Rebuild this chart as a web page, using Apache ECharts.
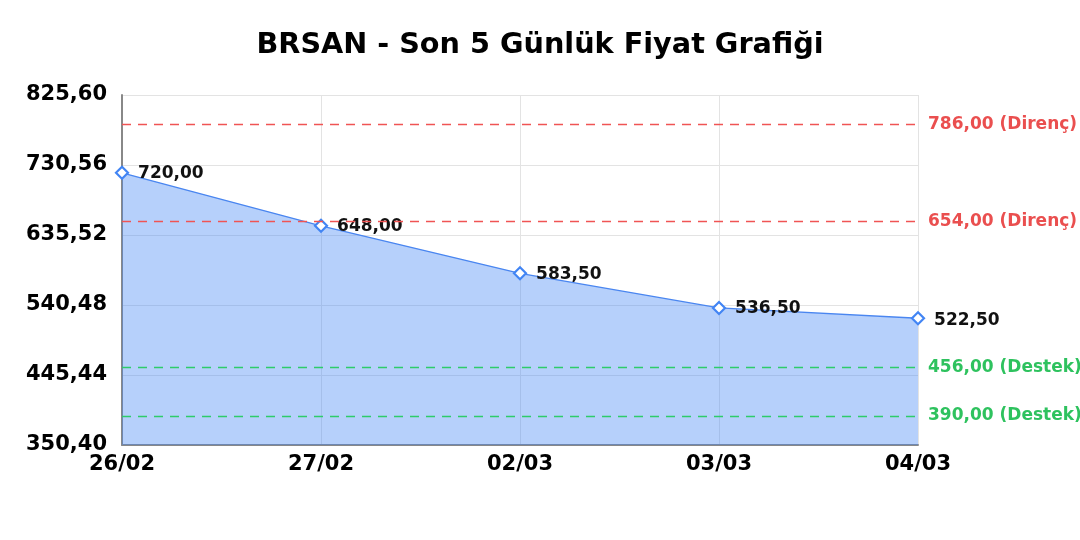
<!DOCTYPE html>
<html>
<head>
<meta charset="utf-8">
<script src="https://cdn.jsdelivr.net/npm/echarts@6/dist/echarts.min.js"></script>
<style>
html,body{margin:0;padding:0;background:#fff;}
#chart{width:1080px;height:540px;}
</style>
</head>
<body>
<div id="chart"></div>
<script>
const titleText = 'BRSAN - Son 5 Günlük Fiyat Grafiği';
const categories = ['26/02', '27/02', '02/03', '03/03', '04/03'];
const prices = [720.00, 648.00, 583.50, 536.50, 522.50];
const yTicks = [350.40, 445.44, 540.48, 635.52, 730.56, 825.60];
const resistanceLevels = [786.00, 654.00];
const supportLevels = [456.00, 390.00];

const fmt = v => v.toFixed(2).replace('.', ',');
const FONT = '"DejaVu Sans", sans-serif';

const markData = [];
resistanceLevels.forEach(v => markData.push({
  yAxis: v,
  lineStyle: { color: '#f05454', type: [9, 7], width: 1.3 },
  label: { formatter: fmt(v) + ' (Direnç)', color: '#ea4f4f' }
}));
supportLevels.forEach(v => markData.push({
  yAxis: v,
  lineStyle: { color: '#2ecc6a', type: [9, 7], width: 1.3 },
  label: { formatter: fmt(v) + ' (Destek)', color: '#2ec25e' }
}));

const seriesData = prices.map((v, i) => i === prices.length - 1
  ? { value: v, label: { offset: [0, 2] } }
  : { value: v });

const chart = echarts.init(document.getElementById('chart'), null, { renderer: 'canvas' });
chart.setOption({
  animation: false,
  backgroundColor: '#ffffff',
  title: {
    text: titleText,
    left: 'center',
    top: 26,
    textStyle: { fontFamily: FONT, fontSize: 28.7, fontWeight: 'bold', color: '#000' }
  },
  grid: { left: 122, right: 162, top: 95, bottom: 95, containLabel: false },
  xAxis: {
    type: 'category',
    data: categories,
    boundaryGap: false,
    axisLine: { show: true, lineStyle: { color: '#888', width: 2 } },
    axisTick: { show: false },
    axisLabel: { fontFamily: FONT, fontSize: 21, fontWeight: 'bold', color: '#000', margin: 9 },
    splitLine: { show: true, lineStyle: { color: '#e3e3e3', width: 1 } }
  },
  yAxis: {
    type: 'value',
    min: yTicks[0],
    max: yTicks[yTicks.length - 1],
    axisLine: { show: true, lineStyle: { color: '#888', width: 2 } },
    axisTick: { show: false, customValues: yTicks },
    axisLabel: {
      customValues: yTicks,
      fontFamily: FONT, fontSize: 21, fontWeight: 'bold', color: '#000', margin: 15,
      formatter: v => fmt(v)
    },
    splitLine: { show: true, lineStyle: { color: '#e3e3e3', width: 1 } }
  },
  series: [{
    type: 'line',
    data: seriesData,
    symbol: 'diamond',
    symbolSize: 12,
    showAllSymbol: true,
    lineStyle: { color: '#4a86f0', width: 1.3 },
    itemStyle: { color: '#ffffff', borderColor: '#4285f4', borderWidth: 2.2 },
    areaStyle: { color: 'rgba(66,133,244,0.39)', opacity: 1 },
    label: {
      show: true,
      position: 'right',
      distance: 9,
      offset: [0, 1],
      fontFamily: FONT, fontSize: 17, fontWeight: 'bold', color: '#111',
      formatter: p => fmt(p.value)
    },
    markLine: {
      silent: true,
      symbol: 'none',
      label: {
        position: 'end',
        distance: 10,
        fontFamily: FONT, fontSize: 17, fontWeight: 'bold'
      },
      data: markData
    }
  }]
});
</script>
</body>
</html>
